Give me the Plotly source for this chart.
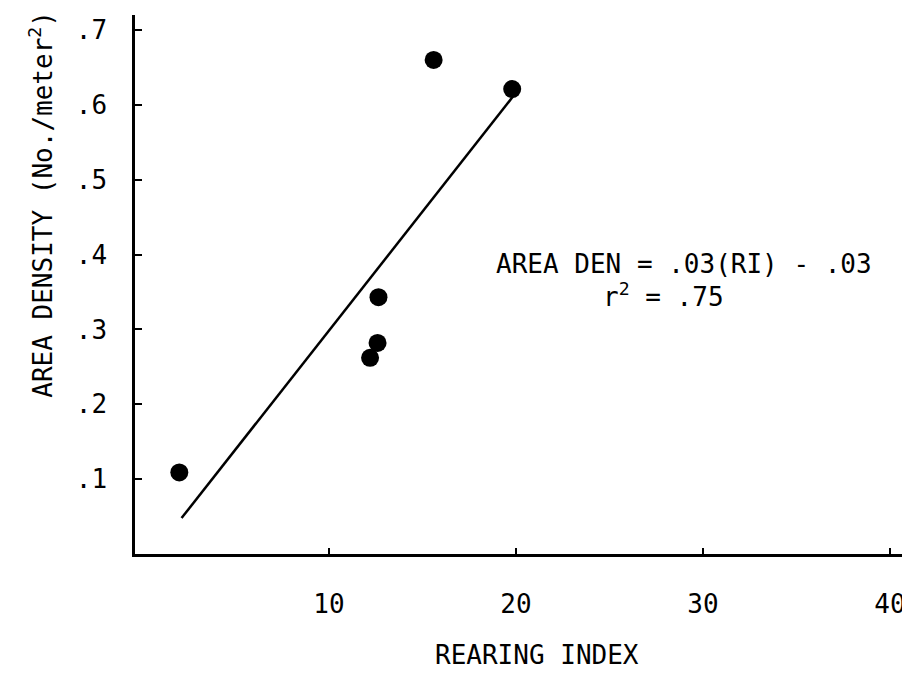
import plotly.graph_objects as go

# Data
rearing_index = [2.0, 12.2, 12.6, 12.65, 15.6, 19.8]
area_density = [0.109, 0.262, 0.282, 0.343, 0.660, 0.621]

fit_x = [2.12, 19.84]
fit_y = [0.048, 0.611]

x_tick_vals = [10, 20, 30, 40]
x_tick_text = ["10", "20", "30", "40"]
y_tick_vals = [0.1, 0.2, 0.3, 0.4, 0.5, 0.6, 0.7]
y_tick_text = [".1", ".2", ".3", ".4", ".5", ".6", ".7"]

FONT = "DejaVu Sans Mono"
FS = 26

fig = go.Figure()
fig.add_trace(go.Scatter(x=fit_x, y=fit_y, mode="lines",
                         line=dict(color="black", width=2.5),
                         showlegend=False, hoverinfo="skip"))
fig.add_trace(go.Scatter(x=rearing_index, y=area_density, mode="markers",
                         marker=dict(color="black", size=18),
                         showlegend=False))

fig.update_layout(
    width=910, height=683,
    margin=dict(l=127, r=0, t=7, b=137),
    plot_bgcolor="white", paper_bgcolor="white",
    font=dict(family=FONT, size=FS, color="black"),
    xaxis=dict(range=[-0.37, 41.5], showgrid=False, zeroline=False,
               automargin=False,
               showline=True, linecolor="black", linewidth=2.5,
               tickvals=x_tick_vals, ticktext=x_tick_text,
               ticks="inside", ticklen=6, tickwidth=2, tickcolor="black",
               ticklabelstandoff=25, tickfont=dict(family=FONT, size=FS)),
    yaxis=dict(range=[0, 0.72], showgrid=False, zeroline=False,
               automargin=False,
               showline=True, linecolor="black", linewidth=2.5,
               tickvals=y_tick_vals, ticktext=y_tick_text,
               ticks="inside", ticklen=7, tickwidth=2, tickcolor="black",
               ticklabelstandoff=20, tickfont=dict(family=FONT, size=FS)),
    annotations=[
        dict(text="REARING INDEX", xref="paper", yref="paper",
             x=0.513, y=0, yshift=-101, xanchor="center", yanchor="middle",
             showarrow=False, font=dict(family=FONT, size=FS)),
        dict(text="AREA DENSITY (No./meter<sup>2</sup>)", xref="paper", yref="paper",
             x=0, xshift=-94, y=0.648, textangle=-90, xanchor="center", yanchor="middle",
             showarrow=False, font=dict(family=FONT, size=FS)),
        dict(text="AREA DEN = .03(RI) - .03", xref="x", yref="y",
             x=29.0, y=0.388, xanchor="center", yanchor="middle",
             showarrow=False, font=dict(family=FONT, size=FS)),
        dict(text="r<sup>2</sup> = .75", xref="x", yref="y",
             x=27.9, y=0.346, xanchor="center", yanchor="middle",
             showarrow=False, font=dict(family=FONT, size=FS)),
    ],
)

fig.write_html("out.html")
